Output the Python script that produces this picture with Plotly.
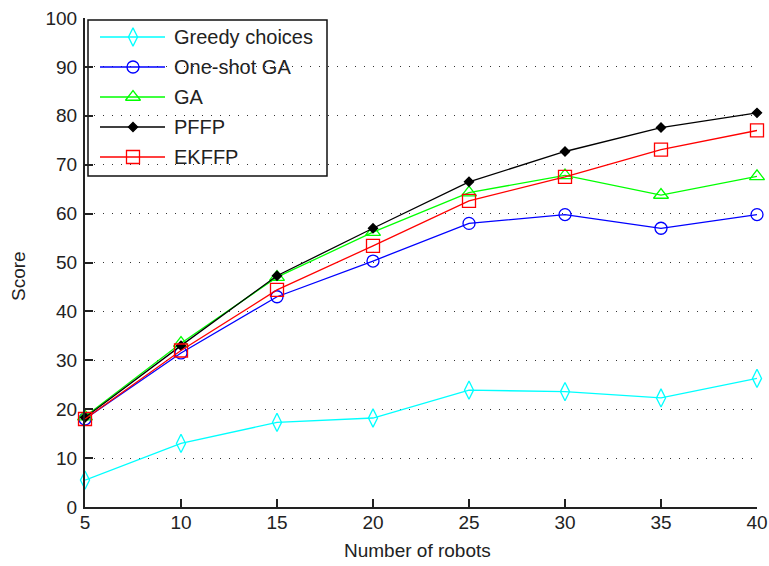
import plotly.graph_objects as go

# Number of robots on the x axis
robots = [5, 10, 15, 20, 25, 30, 35, 40]

# Score per method
greedy = [5.5, 13.0, 17.3, 18.2, 23.9, 23.6, 22.3, 26.3]
oneshot_ga = [18.0, 31.5, 43.0, 50.3, 58.0, 59.8, 57.0, 59.8]
ga = [18.5, 33.5, 47.0, 56.2, 64.3, 67.8, 63.8, 67.6]
pffp = [18.3, 33.0, 47.3, 57.0, 66.5, 72.7, 77.6, 80.6]
ekffp = [18.0, 32.0, 44.4, 53.4, 62.6, 67.5, 73.1, 77.0]

names = ["Greedy choices", "One-shot GA", "GA", "PFFP", "EKFFP"]
series = [greedy, oneshot_ga, ga, pffp, ekffp]
colors = ["#00FFFF", "#0000FF", "#00FF00", "#000000", "#FF0000"]
symbols = ["diamond-tall-open", "circle-open", "triangle-up-open", "diamond", "square-open"]
sizes = [13, 12, 13, 7, 13]

FONT = "Liberation Sans, Arial, sans-serif"
TXT = "#222222"

W, H = 769, 566
L, R, T, B = 85, 757, 18, 507   # plot area edges in pixels


def px(p):
    return (p - L) / (R - L)


def py(q):
    return (B - q) / (B - T)


fig = go.Figure()

for name, ys, c, s, sz in zip(names, series, colors, symbols, sizes):
    fig.add_trace(go.Scatter(
        x=robots, y=ys, name=name, mode="lines+markers",
        line=dict(color=c, width=1.3),
        marker=dict(symbol=s, size=sz, color=c, line=dict(color=c, width=1.3)),
        cliponaxis=False, showlegend=False,
    ))

# Legend box, sample lines and labels (overlay axis in plot-area pixels)
legend_rows = [37, 67, 97, 127, 157]
annotations = []
for name, row, c, s, sz in zip(names, legend_rows, colors, symbols, sizes):
    fig.add_trace(go.Scatter(
        x=[100, 165], y=[row, row], mode="lines",
        line=dict(color=c, width=1.3),
        xaxis="x2", yaxis="y2", showlegend=False, hoverinfo="skip",
    ))
    fig.add_trace(go.Scatter(
        x=[133], y=[row], mode="markers",
        marker=dict(symbol=s, size=sz, color=c, line=dict(color=c, width=1.3)),
        xaxis="x2", yaxis="y2", showlegend=False, hoverinfo="skip",
    ))
    annotations.append(dict(x=px(172), y=py(row), xref="paper", yref="paper", text=name,
                            showarrow=False, xanchor="left", yanchor="middle",
                            font=dict(family=FONT, size=20, color=TXT)))

annotations += [
    dict(text="Number of robots", x=px(417), y=py(550), xref="paper", yref="paper",
         showarrow=False, xanchor="center", yanchor="middle",
         font=dict(family=FONT, size=19, color=TXT)),
    dict(text="Score", x=px(18), y=py(276), xref="paper", yref="paper", showarrow=False,
         textangle=-90, xanchor="center", yanchor="middle",
         font=dict(family=FONT, size=19, color=TXT)),
]

fig.add_shape(type="rect", x0=px(88), x1=px(327), y0=py(20), y1=py(176),
              xref="paper", yref="paper",
              line=dict(color="#111111", width=1.5), fillcolor="white", layer="between")

fig.update_layout(
    width=W, height=H,
    margin=dict(l=L, r=W - R, t=T, b=H - B, autoexpand=False),
    paper_bgcolor="white", plot_bgcolor="white",
    font=dict(family=FONT, size=19, color=TXT),
    xaxis=dict(
        range=[5, 40], tickvals=robots, ticks="inside", ticklen=8, tickwidth=1.5,
        tickcolor="#222222", showline=True, linecolor="#222222", linewidth=2,
        showgrid=False, zeroline=False, ticklabelstandoff=-3, automargin=False,
    ),
    yaxis=dict(
        range=[0, 100], dtick=10, ticks="inside", ticklen=8, tickwidth=1.5,
        tickcolor="#222222", showline=True, linecolor="#222222", linewidth=2,
        showgrid=True, gridcolor="#333333", gridwidth=1, griddash="1px,8px",
        zeroline=False, ticklabelstandoff=2, automargin=False,
    ),
    xaxis2=dict(range=[L, R], overlaying="x", visible=False, fixedrange=True,
                automargin=False),
    yaxis2=dict(range=[B, T], overlaying="y", visible=False, fixedrange=True,
                automargin=False),
    annotations=annotations,
)

fig.write_html("out.html")
